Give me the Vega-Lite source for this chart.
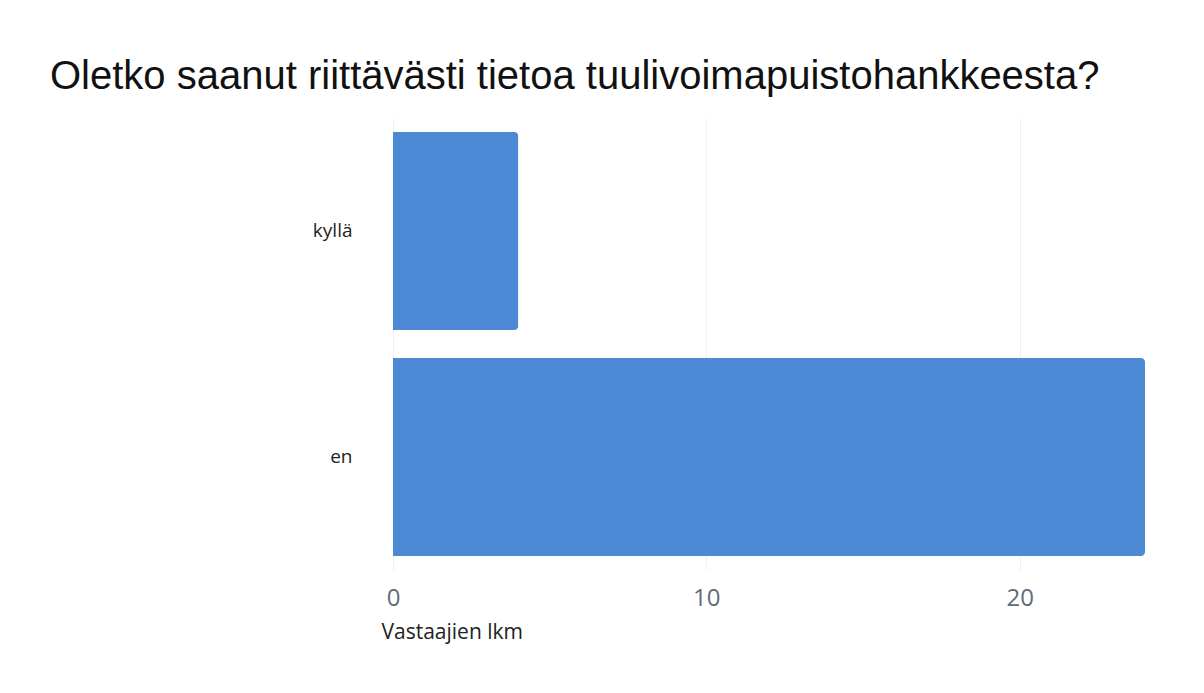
{
  "$schema": "https://vega.github.io/schema/vega-lite/v6.json",
  "width": 752,
  "height": 452,
  "autosize": {"type": "none"},
  "padding": {"left": 393, "top": 118, "right": 59, "bottom": 123},
  "background": "white",
  "title": {
    "text": "Oletko saanut riittävästi tietoa tuulivoimapuistohankkeesta?",
    "font": "Liberation Sans",
    "fontSize": 40,
    "fontWeight": "normal",
    "color": "#111111",
    "anchor": "start",
    "frame": "group",
    "dx": -343,
    "baseline": "alphabetic",
    "offset": -11
  },
  "data": {
    "values": [
      {"vastaus": "kyllä", "lkm": 4},
      {"vastaus": "en", "lkm": 24}
    ]
  },
  "mark": {"type": "bar", "color": "#4D8AD6", "cornerRadiusEnd": 4},
  "encoding": {
    "y": {
      "field": "vastaus",
      "type": "nominal",
      "sort": ["kyllä", "en"],
      "scale": {"paddingInner": 0.124, "paddingOuter": 0.062},
      "axis": {
        "title": null,
        "ticks": false,
        "domain": false,
        "labelPadding": 41,
        "labelFont": "Open Sans",
        "labelFontSize": 19,
        "labelColor": "#222222"
      }
    },
    "x": {
      "field": "lkm",
      "type": "quantitative",
      "scale": {"domain": [0, 24], "nice": false},
      "axis": {
        "values": [0, 10, 20],
        "title": "Vastaajien lkm",
        "titleFont": "Open Sans",
        "titleFontSize": 21,
        "titleFontWeight": "normal",
        "titleColor": "#222222",
        "titleAnchor": "start",
        "titleAlign": "left",
        "titleBaseline": "alphabetic",
        "titleX": -12,
        "titleY": 68,
        "ticks": false,
        "domain": false,
        "labelFlush": false,
        "labelPadding": 16,
        "labelFont": "Open Sans",
        "labelFontSize": 24,
        "labelColor": "#5F6B7A",
        "grid": true,
        "gridColor": "#EEF1F4",
        "gridWidth": 1
      }
    }
  },
  "config": {"view": {"stroke": null}}
}
